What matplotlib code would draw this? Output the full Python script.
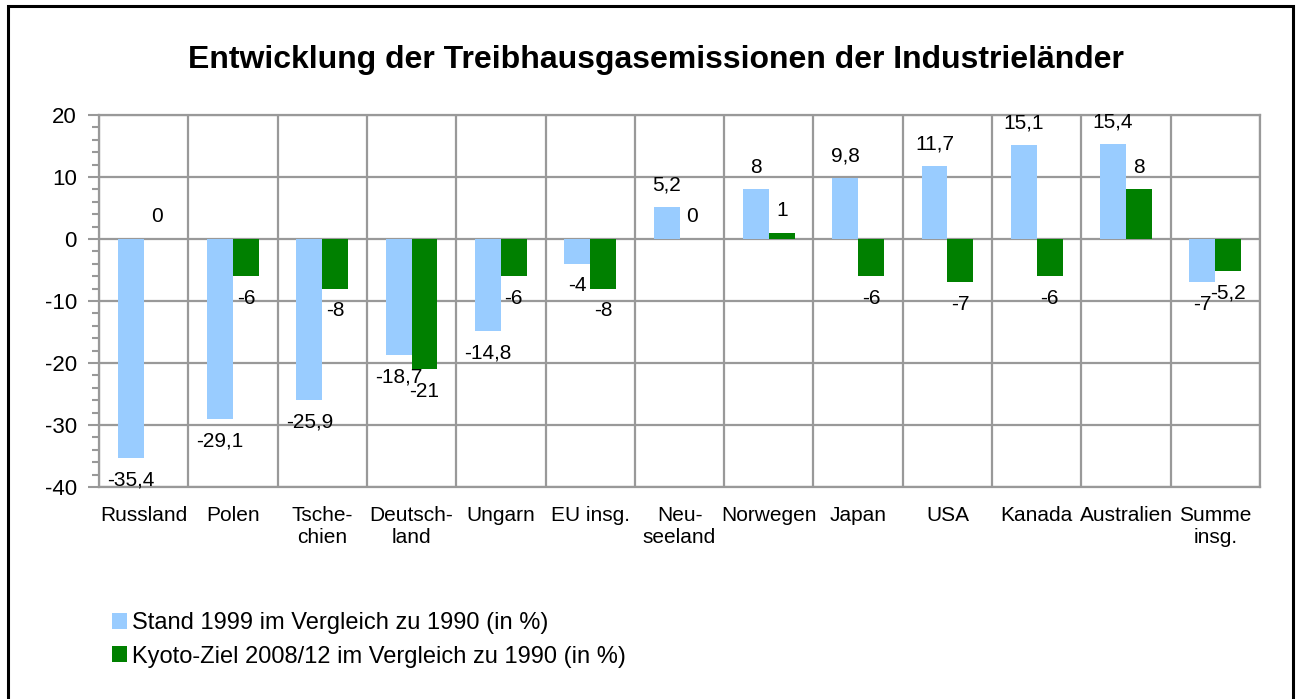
import matplotlib.pyplot as plt
import numpy as np
from matplotlib.patches import Rectangle

plt.rcParams['font.family'] = ['Liberation Sans', 'DejaVu Sans']
plt.rcParams['axes.unicode_minus'] = False

# Daten
laender = ['Russland', 'Polen', 'Tsche-\nchien', 'Deutsch-\nland', 'Ungarn', 'EU insg.',
           'Neu-\nseeland', 'Norwegen', 'Japan', 'USA', 'Kanada', 'Australien', 'Summe\ninsg.']
stand_1999 = [-35.4, -29.1, -25.9, -18.7, -14.8, -4, 5.2, 8, 9.8, 11.7, 15.1, 15.4, -7]
kyoto_ziel = [0, -6, -8, -21, -6, -8, 0, 1, -6, -7, -6, 8, -5.2]
y_ticks = [20, 10, 0, -10, -20, -30, -40]

blau = '#99CCFF'
gruen = '#008000'
grau = '#999999'

fig = plt.figure(figsize=(12.98, 6.99), dpi=100)
ax = fig.add_axes([0.0763, 0.3033, 0.8944, 0.5322])

x = np.arange(len(laender))
b = 0.29
bars1 = ax.bar(x - b / 2, stand_1999, b, color=blau, zorder=3,
               label='Stand 1999 im Vergleich zu 1990 (in %)')
bars2 = ax.bar(x + b / 2, kyoto_ziel, b, color=gruen, zorder=3,
               label='Kyoto-Ziel 2008/12 im Vergleich zu 1990 (in %)')

# Beschriftung der Balken
def beschriften(bars, werte):
    for rect, v in zip(bars, werte):
        txt = ('%g' % v).replace('.', ',')
        cx = rect.get_x() + rect.get_width() / 2
        if v >= 0:
            ax.annotate(txt, (cx, v), xytext=(0, 9), textcoords='offset points',
                        ha='center', va='bottom', fontsize=15)
        else:
            yv = max(v, -36.8)
            ax.annotate(txt, (cx, yv), xytext=(0, -9), textcoords='offset points',
                        ha='center', va='top', fontsize=15)

beschriften(bars1, stand_1999)
beschriften(bars2, kyoto_ziel)

ax.set_xlim(-0.5, len(laender) - 0.5)
ax.set_ylim(-40, 20)
ax.set_yticks(y_ticks)
ax.set_yticks(np.arange(-40, 21, 2), minor=True)
ax.set_xticks(x)
ax.set_xticklabels(laender, fontsize=15)
ax.tick_params(axis='x', length=0, pad=14)
ax.tick_params(axis='y', which='major', length=8, width=1.5, color=grau, labelsize=16, pad=8)
ax.tick_params(axis='y', which='minor', length=5, width=1.5, color=grau)

# Gitter
ax.set_xticks(np.arange(-0.5, len(laender), 1), minor=True)
ax.tick_params(axis='x', which='minor', length=0)
ax.grid(True, which='minor', axis='x', color=grau, linewidth=1.6, zorder=0)
ax.grid(True, which='major', axis='y', color=grau, linewidth=1.6, zorder=0)
for s in ax.spines.values():
    s.set_color(grau)
    s.set_linewidth(1.6)

fig.text(0.505, 0.914, 'Entwicklung der Treibhausgasemissionen der Industrieländer',
         ha='center', va='center', fontsize=23, fontweight='bold')

fig.legend(handles=[bars1, bars2], loc='lower left', bbox_to_anchor=(0.0863, 0.045),
           frameon=False, fontsize=17, handlelength=0.64, handleheight=0.64,
           handletextpad=0.22, labelspacing=0.48, borderaxespad=0, borderpad=0)

fig.patches.append(Rectangle((8 / 1298, -0.01), 1285 / 1298, 1 - 6 / 699 + 0.01,
                             transform=fig.transFigure, fill=False,
                             edgecolor='black', linewidth=2.2))

fig.savefig('out.png', dpi=100)
